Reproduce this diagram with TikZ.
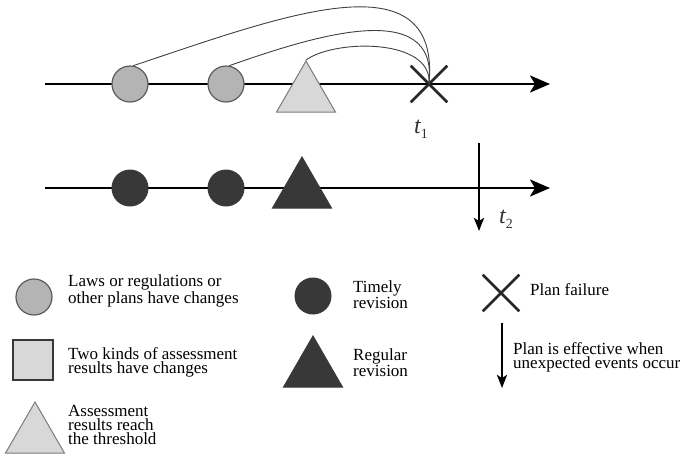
\documentclass[tikz,border=0pt]{standalone}
\usepackage{fontspec}
\setmainfont{Liberation Serif}
\usetikzlibrary{shapes.geometric,shapes.misc,arrows.meta}
\definecolor{lightfill}{HTML}{B4B4B4}
\definecolor{paleFill}{HTML}{D8D8D8}
\definecolor{darkfill}{HTML}{383838}
\definecolor{rimgray}{HTML}{5A5A5A}
\newcommand{\tmark}[1]{{\itshape t}\raisebox{-5pt}{\fontsize{14}{14}\selectfont #1}}
\begin{document}
\begin{tikzpicture}[x=1pt,y=-1pt,
  axis/.style={line width=2.6pt,-{Stealth[length=20pt,width=17pt,inset=5pt]}},
  downarrow/.style={line width=2.4pt,-{Stealth[length=13pt,width=10pt,inset=3pt]}},
  lightdot/.style={circle,draw=rimgray,line width=1.2pt,fill=lightfill,minimum size=36pt,inner sep=0pt},
  darkdot/.style={circle,draw=darkfill,line width=1pt,fill=darkfill,minimum size=36pt,inner sep=0pt},
  lighttri/.style={regular polygon,regular polygon sides=3,draw=rimgray!80,line width=1pt,fill=paleFill,minimum size=68pt,inner sep=0pt},
  darktri/.style={regular polygon,regular polygon sides=3,draw=darkfill,line width=1pt,fill=darkfill,minimum size=68pt,inner sep=0pt},
  failmark/.style={cross out,draw=black!85,line width=2.6pt,minimum size=34pt,inner sep=0pt},
  link/.style={draw=black!75,line width=0.9pt},
  legendtext/.style={anchor=base west,align=left,inner sep=0pt,font=\fontsize{17}{14}\selectfont},
  timelabel/.style={inner sep=0pt,anchor=base west,text=black!80,font=\fontsize{24}{24}\selectfont}]
\useasboundingbox (0,0) rectangle (687,459);

% upper time line: changes leading to plan failure
\coordinate (a0) at (45,84);
\coordinate (a1) at (550,84);
\draw[axis] (a0) -- (a1);
\node[lightdot] (c1) at (130,84) {};
\node[lightdot] (c2) at (226,84) {};
\node[lighttri] (tr1) at (306,95) {};
\node[failmark] (x1) at (429,84) {};
\node[timelabel] (t1) at (414,133) {\tmark{1}};
\draw[link] (c1.80) .. controls +(150,-50) and +(12,-129) .. (x1.center);
\draw[link] (c2.80) .. controls +(80,-28) and +(10,-89) .. (x1.center);
\draw[link] (tr1.corner 1) .. controls +(29,-21) and +(4,-46) .. (x1.center);

% lower time line: revisions keep the plan effective
\coordinate (b0) at (45,188);
\coordinate (b1) at (550,188);
\draw[axis] (b0) -- (b1);
\node[darkdot] (d1) at (130,188) {};
\node[darkdot] (d2) at (226,188) {};
\node[darktri] (tr2) at (302,191) {};
\coordinate (v0) at (479,143);
\coordinate (v1) at (479,231);
\draw[downarrow] (v0) -- (v1);
\node[timelabel] (t2) at (499,223) {\tmark{2}};

% legend
\node[lightdot] (lg1) at (34,297) {};
\node[legendtext] (lt1) at (68,303) {Laws or regulations or\\other plans have changes};
\node[draw=darkfill,line width=2pt,fill=paleFill,minimum size=40pt,inner sep=0pt] (lg2) at (32.5,360) {};
\node[legendtext] (lt2) at (68,373) {Two kinds of assessment\\results have changes};
\node[lighttri] (lg3) at (35,436) {};
\node[legendtext] (lt3) at (68,444) {Assessment\\results reach\\the threshold};

\node[darkdot] (lg4) at (313,296) {};
\node[legendtext] (lt4) at (353,308) {Timely\\revision};
\node[darktri] (lg5) at (313,370) {};
\node[legendtext] (lt5) at (353,376) {Regular\\revision};

\node[failmark] (lg6) at (501,293) {};
\node[legendtext] (lt6) at (530,295) {Plan failure};
\coordinate (w0) at (502,323);
\coordinate (w1) at (502,388);
\draw[downarrow] (w0) -- (w1);
\node[legendtext] (lt7) at (513,368) {Plan is effective when\\unexpected events occur};
\end{tikzpicture}
\end{document}
